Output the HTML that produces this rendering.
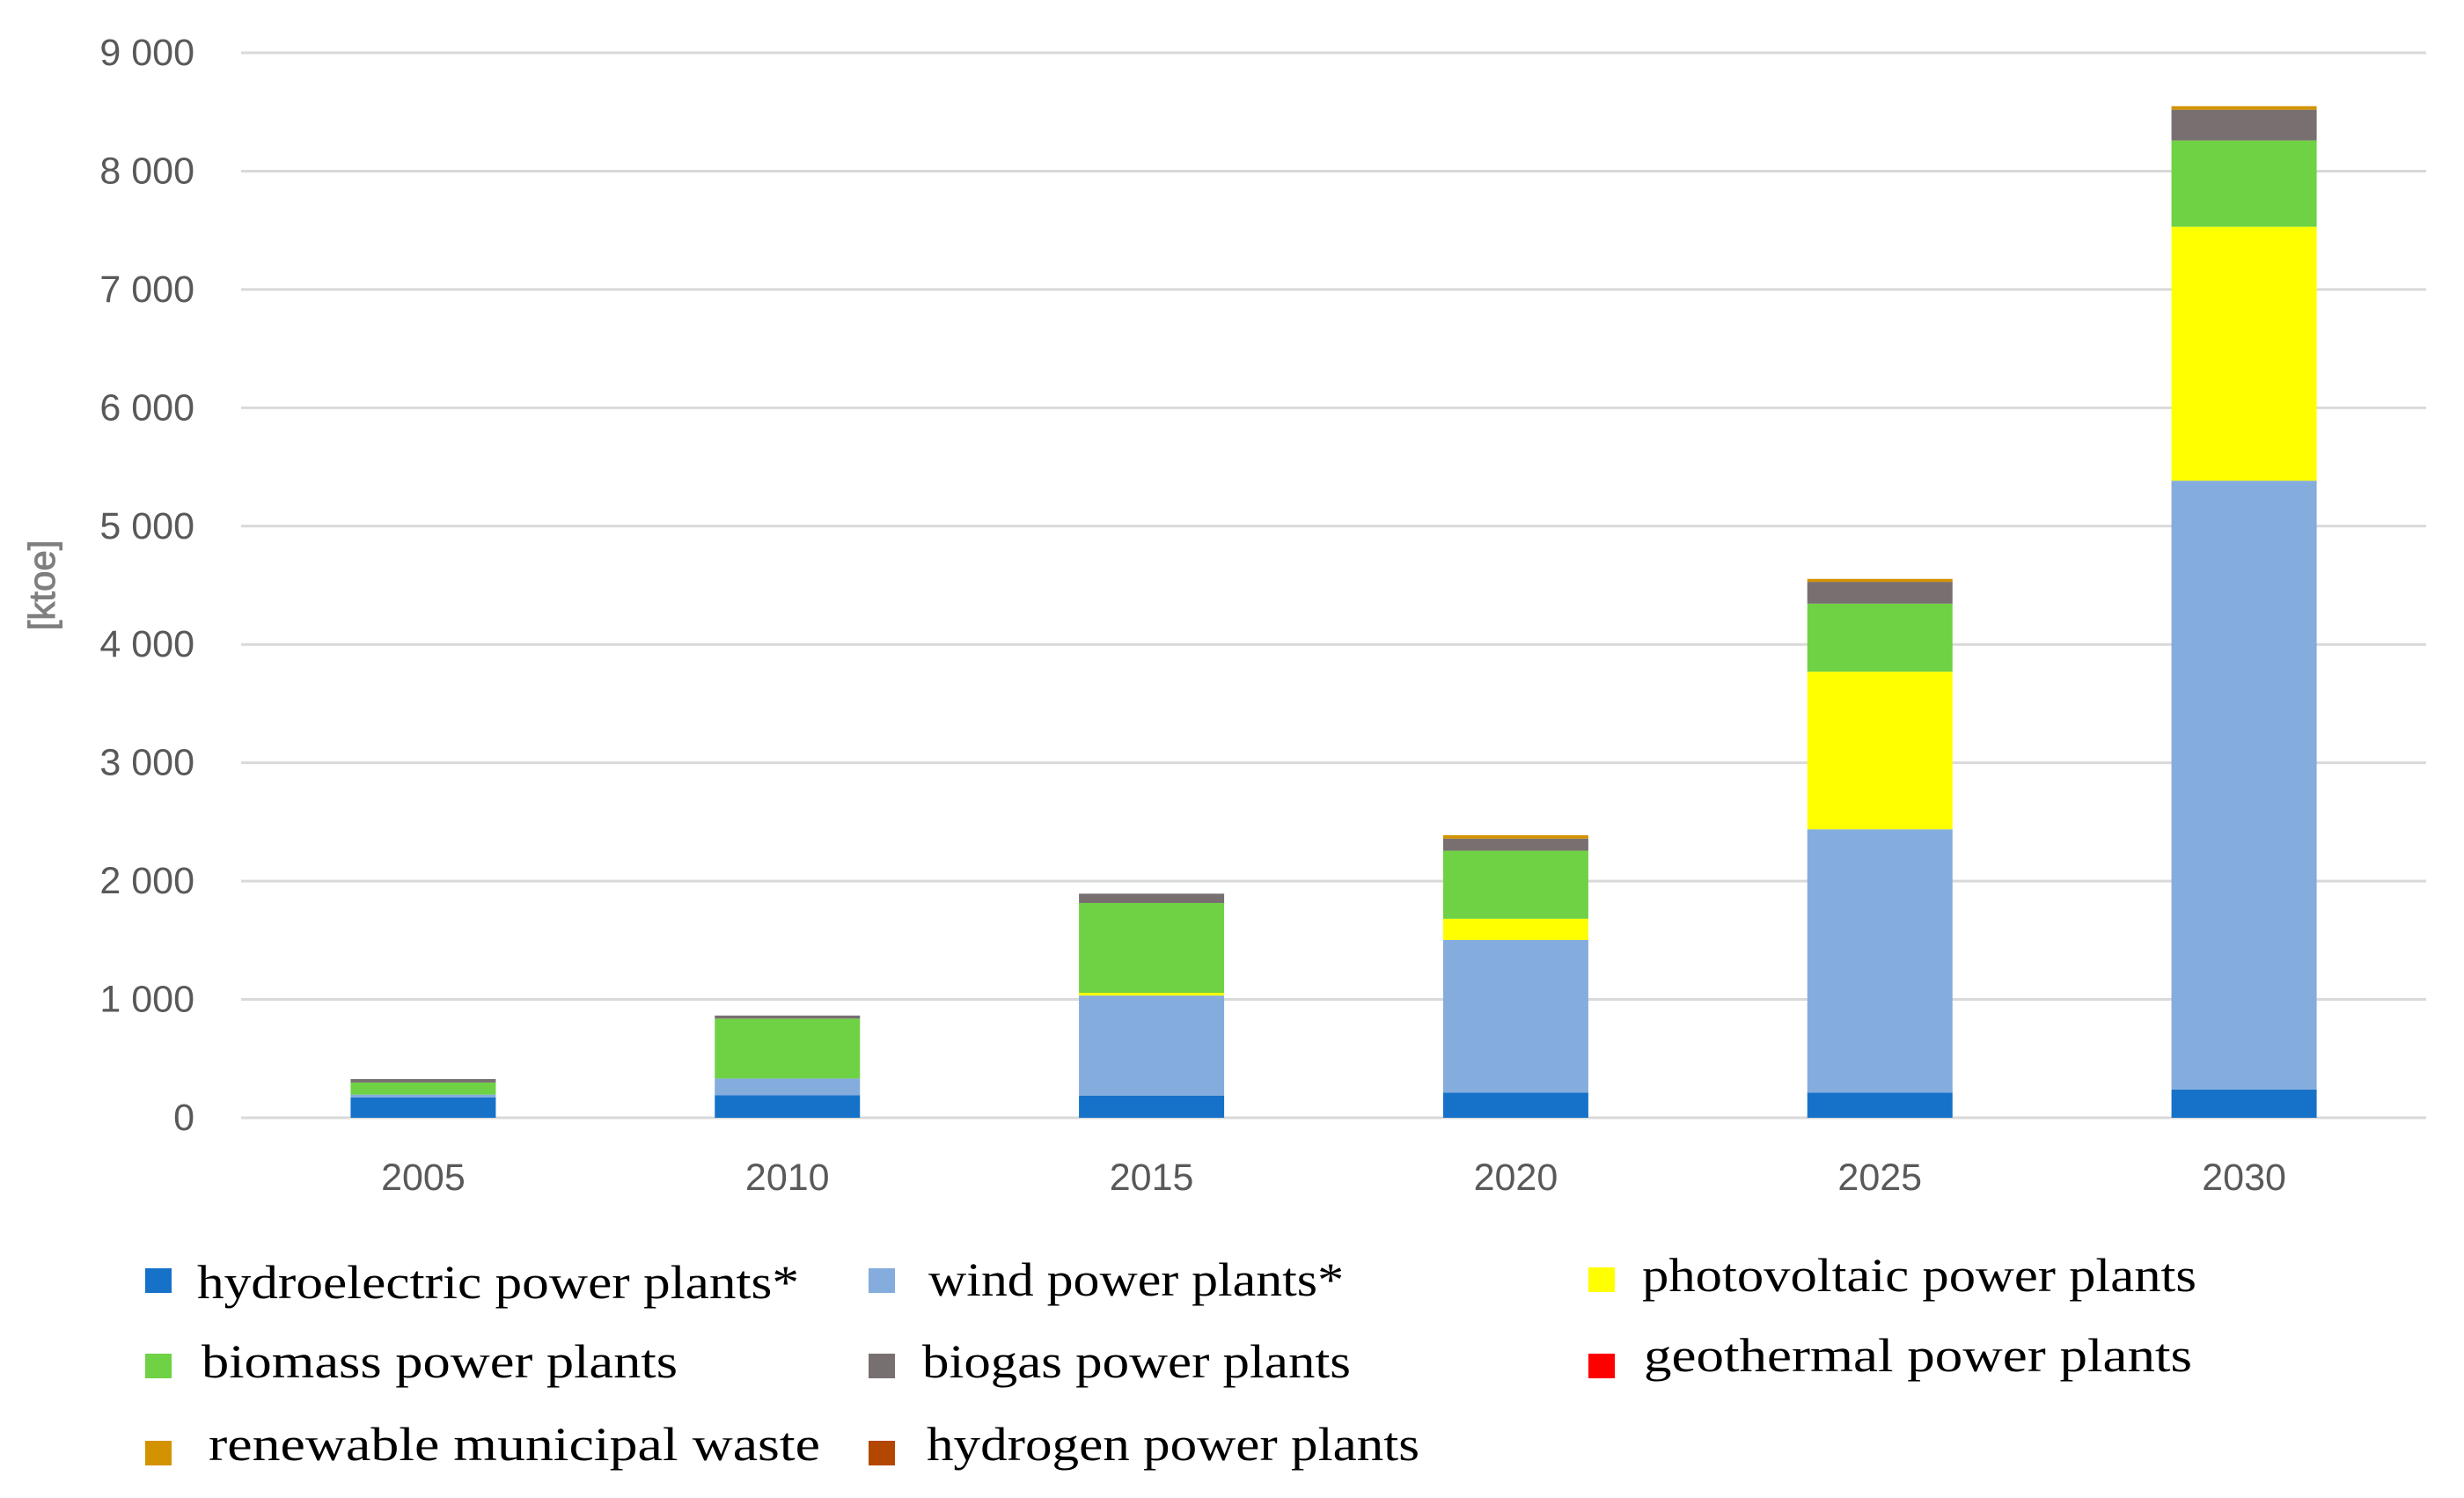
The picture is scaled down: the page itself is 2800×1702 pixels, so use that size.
<!DOCTYPE html>
<html><head><meta charset="utf-8"><style>
html,body{margin:0;padding:0;background:#fff;}
svg{display:block;}
</style></head><body>
<svg id="chart" width="2800" height="1702" viewBox="0 0 2800 1702" xmlns="http://www.w3.org/2000/svg">
<rect x="0" y="0" width="2800" height="1702" fill="#fff"/>
<g id="grid"></g>
<g id="yticks"></g>
<g id="bars"></g>
<g id="xticks"></g>
<text transform="translate(62,665) rotate(-90)" text-anchor="middle" font-family="Liberation Sans, sans-serif" font-size="42" fill="#7f7f7f" stroke="#7f7f7f" stroke-width="1">[ktoe]</text>
<g id="legend"></g>
</svg>
<script>
const categories = ["2005","2010","2015","2020","2025","2030"];
const seriesNames = ["hydroelectric power plants*","wind power plants*","photovoltaic power plants","biomass power plants","biogas power plants","geothermal power plants","renewable municipal waste","hydrogen power plants"];
const seriesColors = ["#1672c8","#84acdd","#ffff00","#6fd244","#787070","#ff0000","#d39300","#b44700"];
const hydro = [173,190,188,213,213,239];
const wind = [23,142,845,1290,2225,5145];
const pv = [0,0,23,179,1332,2146];
const biomass = [102,506,759,575,575,729];
const biogas = [29,26,79,102,184,260];
const geothermal = [0,0,0,0,0,0];
const waste = [0,0,0,29,25,30];
const hydrogen = [0,0,0,0,0,0];
const yTicks = [0,1000,2000,3000,4000,5000,6000,7000,8000,9000];
const yTickLabels = ["0","1 000","2 000","3 000","4 000","5 000","6 000","7 000","8 000","9 000"];

const series = [hydro,wind,pv,biomass,biogas,geothermal,waste,hydrogen];
const NS = "http://www.w3.org/2000/svg";
const plotL = 274, plotR = 2757, y0 = 1270, yMax = 9000, yTop = 60;
function yScale(v){ return y0 - (v / yMax) * (y0 - yTop); }
const band = (plotR - plotL) / categories.length;
function xCenter(i){ return plotL + band * (i + 0.5); }
const barW = 165;

const grid = document.getElementById('grid');
const yt = document.getElementById('yticks');
yTicks.forEach((t, i) => {
  const ln = document.createElementNS(NS, 'line');
  
  
  ln.setAttribute('x1', plotL); ln.setAttribute('x2', plotR);
  ln.setAttribute('y1', yScale(t)); ln.setAttribute('y2', yScale(t));
  ln.setAttribute('stroke', '#d9d9d9'); ln.setAttribute('stroke-width', '3');
  grid.appendChild(ln);
  const tx = document.createElementNS(NS, 'text');
  
  
  tx.setAttribute('x', 221); tx.setAttribute('y', yScale(t) + 14);
  tx.setAttribute('text-anchor', 'end');
  tx.setAttribute('font-family', 'Liberation Sans, sans-serif');
  tx.setAttribute('font-size', '43');
  tx.setAttribute('fill', '#595959');
  tx.textContent = yTickLabels[i];
  yt.appendChild(tx);
});

const bars = document.getElementById('bars');
categories.forEach((c, i) => {
  let cum = 0;
  series.forEach((s, k) => {
    const v = s[i];
    if (v <= 0) return;
    const r = document.createElementNS(NS, 'rect');
    
    
    r.setAttribute('x', xCenter(i) - barW / 2);
    r.setAttribute('width', barW);
    r.setAttribute('y', yScale(cum + v));
    r.setAttribute('height', yScale(cum) - yScale(cum + v));
    r.setAttribute('fill', seriesColors[k]);
    bars.appendChild(r);
    cum += v;
  });
});

const xt = document.getElementById('xticks');
categories.forEach((c, i) => {
  const tx = document.createElementNS(NS, 'text');
  
  
  tx.setAttribute('x', xCenter(i)); tx.setAttribute('y', 1352);
  tx.setAttribute('text-anchor', 'middle');
  tx.setAttribute('font-family', 'Liberation Sans, sans-serif');
  tx.setAttribute('font-size', '43');
  tx.setAttribute('fill', '#595959');
  tx.textContent = c;
  xt.appendChild(tx);
});

const legSq = [[165,1441],[987,1441],[1805,1440],[165,1538],[987,1538],[1805,1538],[165,1637],[987,1637]];
const legTx = [[224,1475,684],[1055,1472,472],[1866,1467,630],[229,1565,541],[1048,1565,487],[1868,1558,623],[237,1659,695],[1053,1659,560]];
const leg = document.getElementById('legend');
seriesNames.forEach((n, k) => {
  const g = document.createElementNS(NS, 'g');
  
  
  const r = document.createElementNS(NS, 'rect');
  
  
  r.setAttribute('x', legSq[k][0]); r.setAttribute('y', legSq[k][1]);
  r.setAttribute('width', 30); r.setAttribute('height', 28);
  r.setAttribute('fill', seriesColors[k]);
  g.appendChild(r);
  const t = document.createElementNS(NS, 'text');
  
  
  t.setAttribute('x', legTx[k][0]); t.setAttribute('y', legTx[k][1]);
  t.setAttribute('textLength', legTx[k][2]);
  t.setAttribute('lengthAdjust', 'spacingAndGlyphs');
  t.setAttribute('font-family', 'Liberation Serif, serif');
  t.setAttribute('font-size', '54');
  t.setAttribute('fill', '#000');
  t.textContent = n;
  g.appendChild(t);
  leg.appendChild(g);
});
</script>
</body></html>
